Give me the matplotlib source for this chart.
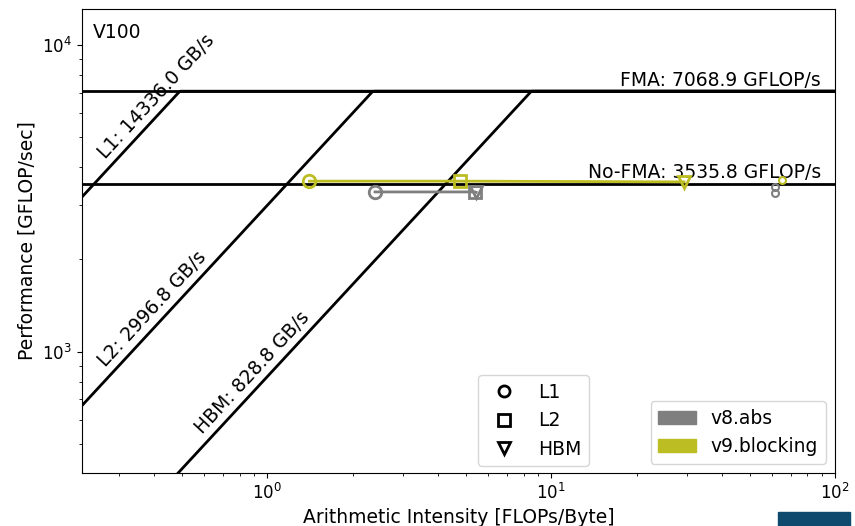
import numpy as np
import matplotlib
matplotlib.use('Agg')
import matplotlib.pyplot as plt
from matplotlib.lines import Line2D
from matplotlib.patches import Patch, Rectangle

# roofline ceilings
mem_names = ['L1', 'L2', 'HBM']
mem_bw = [14336.0, 2996.8, 828.8]          # GB/s
comp_names = ['FMA', 'No-FMA']
comp_peak = [7068.9, 3535.8]               # GFLOP/s
label_ai = [0.284, 0.284, 0.62]            # where bandwidth labels start

# kernels: AI and GFLOP/s per memory level (L1, L2, HBM)
kernels = ['v8.abs', 'v9.blocking']
kernel_colors = ['#7f7f7f', '#bcbd22']
kernel_ai = [[2.40, 5.40, 5.45], [1.41, 4.78, 29.4]]
kernel_perf = [[3320, 3320, 3310], [3600, 3600, 3580]]
markers = ['o', 's', 'v']

# small extra points near AI ~ 60
extra_ai = [[61.5, 61.5], [65.0]]
extra_perf = [[3450, 3300], [3640]]

xmin, xmax = 0.223, 100
ymin, ymax = 403, 13100
fs = 13.5

fig = plt.figure(figsize=(8.55, 5.26), dpi=100)
ax = fig.add_axes([0.0959, 0.1008, 0.8807, 0.8821])
ax.set_xscale('log')
ax.set_yscale('log')
ax.set_xlim(xmin, xmax)
ax.set_ylim(ymin, ymax)
fig.canvas.draw()

x = np.logspace(np.log10(xmin), np.log10(xmax), 400)
for name, bw in zip(mem_names, mem_bw):
    y = np.minimum(x * bw, comp_peak[0])
    ax.plot(x, y, color='black', lw=2)

for name, pk in zip(comp_names, comp_peak):
    ax.plot([xmin, xmax], [pk, pk], color='black', lw=2)
    ax.annotate(f'{name}: {pk:.1f} GFLOP/s', xy=(xmax, pk), xytext=(-10, 1),
                textcoords='offset points', ha='right', va='bottom', fontsize=fs)

# angle of bandwidth lines in display space
p1 = ax.transData.transform((1, 1000))
p2 = ax.transData.transform((10, 10000))
ang = np.degrees(np.arctan2(p2[1] - p1[1], p2[0] - p1[0]))
for name, bw, a in zip(mem_names, mem_bw, label_ai):
    dx = -np.sin(np.radians(ang)) * 3
    dy = np.cos(np.radians(ang)) * 3
    ax.annotate(f'{name}: {bw:.1f} GB/s', xy=(a, a * bw), xytext=(dx, dy),
                textcoords='offset points', rotation=ang, rotation_mode='anchor',
                ha='left', va='bottom', fontsize=fs)

for k in range(len(kernels)):
    c = kernel_colors[k]
    ax.plot(kernel_ai[k], kernel_perf[k], color=c, lw=2, zorder=3)
    for i in range(3):
        ax.plot(kernel_ai[k][i], kernel_perf[k][i], marker=markers[i], color=c,
                markerfacecolor='none', markeredgewidth=2, markersize=9, zorder=4)
    ax.plot(extra_ai[k], extra_perf[k], 'o', color=c, markerfacecolor='none',
            markeredgewidth=1.5, markersize=5, zorder=4)

ax.text(0.014, 0.97, 'V100', transform=ax.transAxes, ha='left', va='top', fontsize=fs)

ax.set_xlabel('Arithmetic Intensity [FLOPs/Byte]', fontsize=fs)
ax.set_ylabel('Performance [GFLOP/sec]', fontsize=fs)
ax.tick_params(labelsize=12)

h1 = [Line2D([], [], marker=m, color='black', markerfacecolor='none', markeredgewidth=2,
             markersize=8, linestyle='none', label=n) for m, n in zip(markers, mem_names)]
leg1 = ax.legend(handles=h1, loc='lower left', bbox_to_anchor=(0.526, 0.015),
                 borderaxespad=0, fontsize=fs)
ax.add_artist(leg1)
h2 = [Patch(color=c, label=n) for c, n in zip(kernel_colors, kernels)]
ax.legend(handles=h2, loc='lower right', fontsize=fs)

# corner logo (cut off)
fig.patches.append(Rectangle((778 / 855, 0), 72 / 855, 14 / 526, transform=fig.transFigure,
                             color='#0e4a6e', zorder=10))

fig.savefig('out.png', dpi=100)
